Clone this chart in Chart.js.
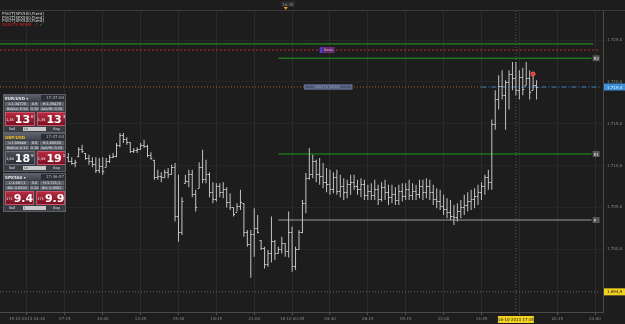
<!DOCTYPE html>
<html>
<head>
<meta charset="utf-8">
<script src="https://cdn.jsdelivr.net/npm/chart.js@4.4.1/dist/chart.umd.min.js"></script>
<style>
html,body{margin:0;padding:0;background:#1d1d1d;overflow:hidden}
#wrap{position:relative;width:625px;height:324px}
#c{position:absolute;left:0;top:0}
.pv{position:absolute;left:2px;font:4px 'DejaVu Sans',sans-serif;color:#d4d4d4;white-space:nowrap;line-height:4px}
.pv.news{color:#e02020}
.pv.news b{color:#30c030}
.panel{position:absolute;left:3px;width:63px;height:39px;background:#3a3d44;border:1px solid #5c616b;font-family:'DejaVu Sans',sans-serif;color:#e6e6e6;box-sizing:border-box;overflow:hidden}
.ph{height:6px;display:flex;justify-content:space-between;align-items:center;background:linear-gradient(#5b606b,#3f434b);font-size:4px;padding-left:1px;font-weight:bold}
.ph.sel .sym{color:#f0c020}
.ph .tm{background:#2b2e34;color:#bbb;font-weight:normal;padding:0 1px;height:6px;line-height:6px;width:22px;text-align:right}
.row{display:flex;gap:1px;height:4.5px;margin:0.5px 1px 0;font-size:3.5px;line-height:4.5px}
.row span{background:#5e636d;text-align:center;overflow:hidden;white-space:nowrap}
.row .w{flex:3}
.row .n{flex:1}
.btns{display:flex;gap:2px;margin:1px 1px 0;height:14px}
.b{flex:1;background:linear-gradient(#b72a3f,#7a1224);border:1px solid #c9556a;display:flex;align-items:center;justify-content:center;box-sizing:border-box;color:#fff}
.b.dark{background:linear-gradient(#4a4e56,#2c2f35);border-color:#6a6e76}
.b i{font-style:normal;font-size:3.5px;margin-right:1px;align-self:flex-end;margin-bottom:3px}
.b b{font-size:11px;line-height:11px;font-weight:bold}
.b sup{font-size:4px;align-self:flex-start;margin-top:1px;margin-left:1px}
.ft{display:flex;justify-content:space-between;align-items:center;height:5px;font-size:3.5px;padding:0 5px;margin-top:0.5px}
.ft .dd{background:#c8c8c8;color:#333;width:22px;height:4px;line-height:4px;padding-left:1px;font-size:3px}
</style>
</head>
<body>
<div id="wrap">
<canvas id="c" width="625" height="324"></canvas>

<div class="pv" style="top:12px">PIVOT[SPX500,Fixed]</div>
<div class="pv" style="top:15.7px">PIVOT[SPX500,Fixed]</div>
<div class="pv" style="top:19.4px">PIVOT[SPX500,Fixed]</div>
<div class="pv news" style="top:23.3px">DAILYFX NEWS - 1 <b>&#10003;</b></div>

<div class="panel" style="top:94px">
  <div class="ph"><span class="sym">EUR/USD &#9662;</span><span class="tm">17:47:04 &#10005;</span></div>
  <div class="row"><span class="w">L:1.34726</span><span class="n">0.9</span><span class="w">H:1.35478</span></div>
  <div class="row"><span class="w">Bid/Lo: 0.54</span><span class="n">0.10</span><span class="w">Ask/Hi: 0.20</span></div>
  <div class="btns"><div class="b"><i>1,35</i><b>13</b><sup>0</sup></div><div class="b"><i>1,35</i><b>13</b><sup>3</sup></div></div>
  <div class="ft"><span>Sell</span><span class="dd">10</span><span>Buy</span></div>
</div>

<div class="panel" style="top:133px">
  <div class="ph sel"><span class="sym">GBP/USD</span><span class="tm">17:47:04 &#10005;</span></div>
  <div class="row"><span class="w">L:1.59940</span><span class="n">8.8</span><span class="w">H:1.60630</span></div>
  <div class="row"><span class="w">Bid/Lo: 0.12</span><span class="n">0.18</span><span class="w">Ask/Hi: 0.10</span></div>
  <div class="btns"><div class="b dark"><i>1,59</i><b>18</b><sup>9</sup></div><div class="b"><i>1,59</i><b>19</b><sup>1</sup></div></div>
  <div class="ft"><span>Sell</span><span class="dd">10</span><span>Buy</span></div>
</div>

<div class="panel" style="top:173px">
  <div class="ph"><span class="sym">SPX500 &#9662;</span><span class="tm">17:46:57 &#10005;</span></div>
  <div class="row"><span class="w">L:1.697,1</span><span class="n">5.0</span><span class="w">H:1.721,1</span></div>
  <div class="row"><span class="w">BG: 0.0502</span><span class="n">0.10</span><span class="w">BG: 0.0502</span></div>
  <div class="btns"><div class="b"><i>171</i><b>9.4</b></div><div class="b"><i>171</i><b>9.9</b></div></div>
  <div class="ft"><span>Sell</span><span class="dd">1</span><span>Buy</span></div>
</div>
</div>

<script>
// 15 minute bars, index 0 = first labelled bar
const firstBar = 12;
const highs = [
  1711.5,1711.0,1710.7,1712.2,1712.5,1711.5,1711.3,1711.0,1711.0,1710.9,
  1711.0,1710.9,1711.3,1711.5,1712.7,1713.9,1713.9,1713.4,1712.8,1712.1,
  1712.2,1712.7,1713.1,1712.5,1711.6,1710.7,1709.5,1709.2,1709.5,1709.7,
  1710.1,1710.3,1708.9,1706.2,1708.9,1709.5,1709.5,1707.1,1710.4,1711.9,
  1710.7,1709.2,1708.0,1707.9,1707.9,1708.0,1707.4,1706.7,1705.0,1705.5,
  1707.1,1705.5,1702.3,1702.3,1704.9,1704.1,1701.1,1700.3,1699.9,1703.9,
  1701.1,1700.3,1701.5,1700.7,1704.5,1702.7,1700.3,1702.3,1705.9,1709.1,
  1712.1,1711.3,1710.7,1710.9,1710.3,1709.7,1709.5,1709.2,1709.5,1708.9,
  1708.5,1708.3,1708.9,1708.9,1708.3,1708.5,1708.3,1707.7,1707.9,1708.3,
  1707.7,1708.0,1708.3,1707.7,1707.7,1707.4,1707.7,1707.9,1707.9,1708.3,
  1707.9,1707.7,1708.3,1708.3,1708.5,1708.3,1707.7,1707.3,1707.1,1706.5,
  1706.1,1705.9,1705.3,1705.5,1705.9,1706.5,1706.8,1707.1,1707.3,1707.7,
  1708.0,1708.9,1709.5,1715.5,1719.0,1720.8,1721.4,1720.2,1721.4,1722.4,
  1722.4,1721.4,1721.7,1722.4,1721.4,1721.2,1720.2
];
const lows = [
  1710.4,1710.1,1709.8,1711.0,1711.5,1710.7,1710.1,1709.8,1709.1,1709.1,
  1708.9,1709.8,1710.3,1710.9,1711.0,1712.2,1712.7,1712.5,1711.5,1711.5,
  1711.5,1711.9,1712.1,1711.0,1710.7,1708.3,1708.3,1708.0,1708.5,1708.5,
  1708.9,1703.3,1700.9,1701.7,1707.9,1707.4,1706.2,1704.5,1707.3,1707.9,
  1707.9,1706.2,1705.5,1705.7,1706.2,1706.1,1705.0,1704.7,1703.9,1704.5,
  1704.7,1701.5,1700.3,1696.6,1699.1,1701.9,1699.9,1697.7,1697.9,1698.4,
  1698.7,1699.5,1699.5,1699.1,1699.0,1697.3,1697.5,1699.9,1701.9,1704.3,
  1708.3,1708.5,1708.0,1707.7,1707.3,1706.8,1706.5,1706.7,1706.5,1706.2,
  1705.9,1706.1,1706.5,1707.1,1706.5,1706.2,1705.9,1705.9,1705.9,1705.9,
  1705.3,1705.7,1705.9,1705.3,1705.5,1705.3,1705.3,1705.7,1705.9,1705.9,
  1705.9,1705.9,1706.1,1705.9,1706.1,1705.9,1705.3,1704.9,1704.7,1704.1,
  1703.7,1703.5,1702.9,1703.3,1703.7,1704.1,1704.5,1704.7,1704.9,1705.3,
  1705.9,1706.5,1707.1,1707.1,1714.3,1716.7,1717.9,1714.3,1716.7,1719.0,
  1718.4,1717.9,1718.4,1719.6,1717.9,1719.0,1717.9
];
const opens = [
  1711.0,1710.6,1710.3,1711.2,1712.0,1711.5,1710.9,1710.5,1710.2,1709.5,
  1710.0,1709.8,1710.5,1711.0,1711.2,1712.5,1713.6,1713.2,1712.8,1711.8,
  1711.9,1712.0,1712.5,1712.3,1711.3,1710.7,1708.6,1708.8,1708.6,1709.2,
  1709.0,1709.8,1704.0,1702.0,1707.9,1708.2,1709.0,1706.6,1707.3,1709.8,
  1708.4,1709.0,1706.8,1706.0,1707.5,1706.8,1707.2,1705.6,1705.0,1704.5,
  1705.2,1705.5,1702.0,1700.6,1701.8,1702.5,1701.1,1700.2,1698.2,1699.5,
  1701.0,1699.6,1700.0,1700.7,1699.8,1702.0,1698.0,1700.0,1702.0,1705.5,
  1708.5,1709.0,1710.5,1709.0,1708.8,1708.0,1707.8,1707.2,1708.6,1707.0,
  1707.6,1706.8,1707.8,1708.0,1707.6,1707.2,1707.8,1706.5,1707.0,1706.5,
  1707.2,1706.0,1707.4,1706.8,1706.2,1706.6,1705.9,1707.0,1706.4,1707.2,
  1706.5,1707.0,1706.6,1707.5,1706.8,1707.6,1706.8,1706.0,1705.8,1705.2,
  1704.8,1704.5,1704.0,1703.8,1704.6,1705.0,1705.3,1705.8,1706.0,1706.4,
  1706.9,1707.6,1708.6,1708.0,1715.0,1718.0,1719.5,1718.5,1720.0,1721.0,
  1720.5,1719.0,1720.6,1719.6,1720.5,1719.0,1719.6
];
const closes = [
  1710.6,1710.3,1710.4,1712.0,1711.8,1710.9,1710.5,1710.2,1709.5,1710.0,
  1709.3,1710.5,1711.0,1711.2,1712.5,1713.6,1713.2,1712.8,1711.8,1711.9,
  1712.0,1712.5,1712.3,1711.3,1710.9,1708.6,1708.8,1708.6,1709.2,1709.0,
  1709.8,1704.0,1702.0,1705.8,1708.2,1709.0,1706.6,1705.0,1709.8,1708.4,
  1709.0,1706.8,1706.0,1707.5,1706.8,1707.2,1705.6,1705.0,1704.2,1705.2,
  1705.6,1702.0,1700.6,1701.8,1702.5,1702.0,1700.2,1698.2,1699.5,1701.0,
  1699.6,1700.0,1700.8,1699.8,1702.0,1698.0,1700.0,1702.0,1705.5,1708.5,
  1709.0,1710.5,1709.0,1708.8,1708.0,1707.8,1707.2,1708.6,1707.0,1707.6,
  1706.8,1707.8,1708.0,1707.6,1707.2,1707.8,1706.5,1707.0,1706.5,1707.2,
  1706.0,1707.4,1706.8,1706.2,1706.6,1705.9,1707.0,1706.4,1707.2,1706.5,
  1707.0,1706.6,1707.5,1706.8,1707.6,1706.8,1706.0,1705.8,1705.2,1704.8,
  1704.5,1704.0,1703.8,1704.6,1705.0,1705.3,1705.8,1706.0,1706.4,1706.9,
  1707.6,1708.6,1708.0,1715.0,1718.0,1719.5,1718.5,1720.0,1721.0,1720.5,
  1719.0,1720.6,1719.2,1720.5,1718.8,1719.6,1719.4
];

// time axis labels, one every 11 bars
const tickIdx = [0,11,22,33,44,55,66,77,88,99,110,121,132,143,154,165];
const timeLabels = ["15-10-2013 04:30","07:15","10:00","12:45","15:30","18:15","21:00","16-10 00:45",
                    "03:30","06:15","09:15","12:00","14:45","17:30","20:15","23:00"];
const priceTicks = [1700,1705,1710,1715,1720,1725];

// pivot levels
const pivotStart = 73, pivotEnd = 164;
const pivotNames = ["R2","R1","P"];
const pivotLevels = [1722.84,1711.39,1703.49];
const prevR = 1724.55;       // green, full width
const prevRed = 1723.83;     // red dotted, full width
const lastPrice = 1719.4;
const lowMark = 1694.9;
const crossIdx = 142, crossTime = "16-10-2013 17:15";
const alertPoint = {x:147, y:1720.96};
const noteBox = {from:80.5, to:94.5, price:1719.4};
const tagIdx = 85;

const xMin = -7.84, xMax = 167.3, yMin = 1692.49, yMax = 1728.49;
const barColor = '#c4c4c4';
const font = "'DejaVu Sans', sans-serif";

function fmt(v){
  const s = v.toFixed(1).split('.');
  const n = s[0];
  return n.slice(0, n.length-3) + '.' + n.slice(-3) + ',' + s[1];
}
function hline(val, from, to, color, dash, order){
  return {type:'line', data:[{x:from,y:val},{x:to,y:val}], borderColor:color, borderWidth:1,
          borderDash:dash||[], pointRadius:0, pointHoverRadius:0, order:order||5};
}

const datasets = [
  {type:'bar', data:highs.map((h,k)=>({x:firstBar+k, y:[lows[k], h]})),
   backgroundColor:barColor, barThickness:1, inflateAmount:0, order:1},
  hline(prevR, xMin, 164.5, '#1f9e1f'),
  hline(prevRed, xMin, 166.5, '#c22a2a', [2,2]),
  hline(pivotLevels[0], pivotStart, pivotEnd, '#1f9e1f'),
  hline(pivotLevels[1], pivotStart, pivotEnd, '#1f9e1f'),
  hline(pivotLevels[2], pivotStart, pivotEnd, '#9a9a9a'),
  hline(lastPrice, xMin, 132, '#a0601c', [1,2]),
  hline(lastPrice, 132, 166.5, '#3f86c8', [5,2,1,2]),
  hline(lowMark, xMin, 166.5, '#6a6a6a', [1,2]),
  {type:'line', data:[{x:crossIdx,y:yMin},{x:crossIdx,y:yMax}], borderColor:'#5a5a5a', borderWidth:1,
   borderDash:[1,2], pointRadius:0, pointHoverRadius:0, order:6},
  {type:'scatter', data:[alertPoint], backgroundColor:'#ee2a2a', borderColor:'#ff6060', pointRadius:2, order:0}
];

const ohlcTicks = {
  id:'ohlcTicks',
  afterDatasetsDraw(chart){
    const {ctx, scales:{x, y}} = chart;
    ctx.save();
    ctx.strokeStyle = barColor;
    ctx.lineWidth = 1;
    ctx.beginPath();
    opens.forEach((o, k) => {
      const px = x.getPixelForValue(firstBar + k);
      const yo = Math.round(y.getPixelForValue(o)) + 0.5;
      const yc = Math.round(y.getPixelForValue(closes[k])) + 0.5;
      ctx.moveTo(px - 1.5, yo); ctx.lineTo(px, yo);
      ctx.moveTo(px, yc); ctx.lineTo(px + 1.5, yc);
    });
    ctx.stroke();
    ctx.restore();
  }
};

const overlay = {
  id:'overlay',
  beforeDraw(chart){
    const {ctx, width} = chart;
    ctx.save();
    ctx.fillStyle = '#1d1d1d';
    ctx.fillRect(0, 0, width, chart.height);
    ctx.strokeStyle = '#3a3a3a';
    ctx.beginPath(); ctx.moveTo(0, 10.5); ctx.lineTo(width, 10.5); ctx.stroke();
    ctx.restore();
  },
  afterDraw(chart){
    const {ctx, chartArea:a, scales:{x, y}} = chart;
    ctx.save();
    ctx.font = '4px ' + font;
    ctx.textBaseline = 'middle';
    // pivot names at line end
    pivotNames.forEach((nm, k) => {
      const py = y.getPixelForValue(pivotLevels[k]);
      const px = x.getPixelForValue(pivotEnd) + 1;
      ctx.fillStyle = '#555'; ctx.fillRect(px, py - 3, 7, 6);
      ctx.fillStyle = '#e6e6e6'; ctx.fillText(nm, px + 1, py + 0.5);
    });
    // news tag on red level
    let px = x.getPixelForValue(tagIdx), py = y.getPixelForValue(prevRed);
    ctx.fillStyle = '#4b3fd0'; ctx.fillRect(px, py - 3, 3, 6);
    ctx.fillStyle = '#6a2c6c'; ctx.fillRect(px + 3, py - 3, 12, 6);
    ctx.fillStyle = '#c9a0c9'; ctx.font = '3.5px ' + font; ctx.fillText('News', px + 4, py);
    // note box
    const x0 = x.getPixelForValue(noteBox.from), x1 = x.getPixelForValue(noteBox.to);
    py = y.getPixelForValue(noteBox.price);
    ctx.fillStyle = '#4c5677'; ctx.fillRect(x0, py - 2.5, x1 - x0, 5);
    ctx.strokeStyle = '#6b7698'; ctx.strokeRect(x0 + 0.5, py - 2, x1 - x0 - 1, 4);
    ctx.fillStyle = '#9aa6c8'; ctx.fillText('DAILYFX NEWS', x0 + 10, py);
    // price tags on right axis
    ctx.font = '4px ' + font;
    const tag = (val, bg, fg) => {
      const ty = y.getPixelForValue(val);
      ctx.fillStyle = bg; ctx.fillRect(a.right + 1, ty - 3.5, 21, 7);
      ctx.fillStyle = fg; ctx.fillText(fmt(val), a.right + 4, ty + 0.5);
    };
    tag(lastPrice, '#3d8fd6', '#e8f3ff');
    tag(lowMark, '#f0d020', '#1a1a1a');
    // crosshair time tag
    const cx = x.getPixelForValue(crossIdx);
    ctx.fillStyle = '#f0d020'; ctx.fillRect(cx - 18, a.bottom + 4, 36, 7);
    ctx.fillStyle = '#1a1a1a'; ctx.textAlign = 'center'; ctx.fillText(crossTime, cx, a.bottom + 7.5);
    // header time marker
    const hx = x.getPixelForValue(74);
    ctx.fillStyle = '#2a2a2a'; ctx.fillRect(hx - 1, 1, 14, 6);
    ctx.fillStyle = '#8a8a8a'; ctx.fillText('16:35', hx + 6, 4.5);
    ctx.fillStyle = '#e0a020';
    ctx.beginPath(); ctx.moveTo(hx + 2, 7); ctx.lineTo(hx + 6, 7); ctx.lineTo(hx + 4, 10); ctx.fill();
    ctx.restore();
  }
};

new Chart(document.getElementById('c'), {
  type:'bar',
  data:{datasets:datasets},
  options:{
    responsive:false,
    animation:false,
    layout:{autoPadding:false, padding:{top:11, left:0, right:0, bottom:0}},
    plugins:{legend:{display:false}, tooltip:{enabled:false}},
    scales:{
      x:{
        type:'linear', min:xMin, max:xMax, offset:false,
        afterFit:(s) => { s.height = 12; s.paddingLeft = 0; s.paddingRight = 0; },
        afterBuildTicks:(s) => { s.ticks = tickIdx.map(v => ({value:v})); },
        grid:{color:'#2b2b2b', offset:false, tickLength:3, tickColor:'#555'},
        border:{color:'#4a4a4a'},
        ticks:{autoSkip:false, maxRotation:0, padding:2, color:'#8c8c8c',
               font:{size:4, family:font}, callback:(v, i) => timeLabels[i]}
      },
      y:{
        position:'right', min:yMin, max:yMax,
        afterFit:(s) => { s.width = 22; s.paddingTop = 0; s.paddingBottom = 0; },
        afterBuildTicks:(s) => { s.ticks = priceTicks.map(v => ({value:v})); },
        grid:{color:'#262626', drawTicks:false},
        border:{color:'#4a4a4a'},
        ticks:{padding:4, color:'#8c8c8c', font:{size:4, family:font}, callback:(v) => fmt(v)}
      }
    }
  },
  plugins:[ohlcTicks, overlay]
});
</script>
</body>
</html>
